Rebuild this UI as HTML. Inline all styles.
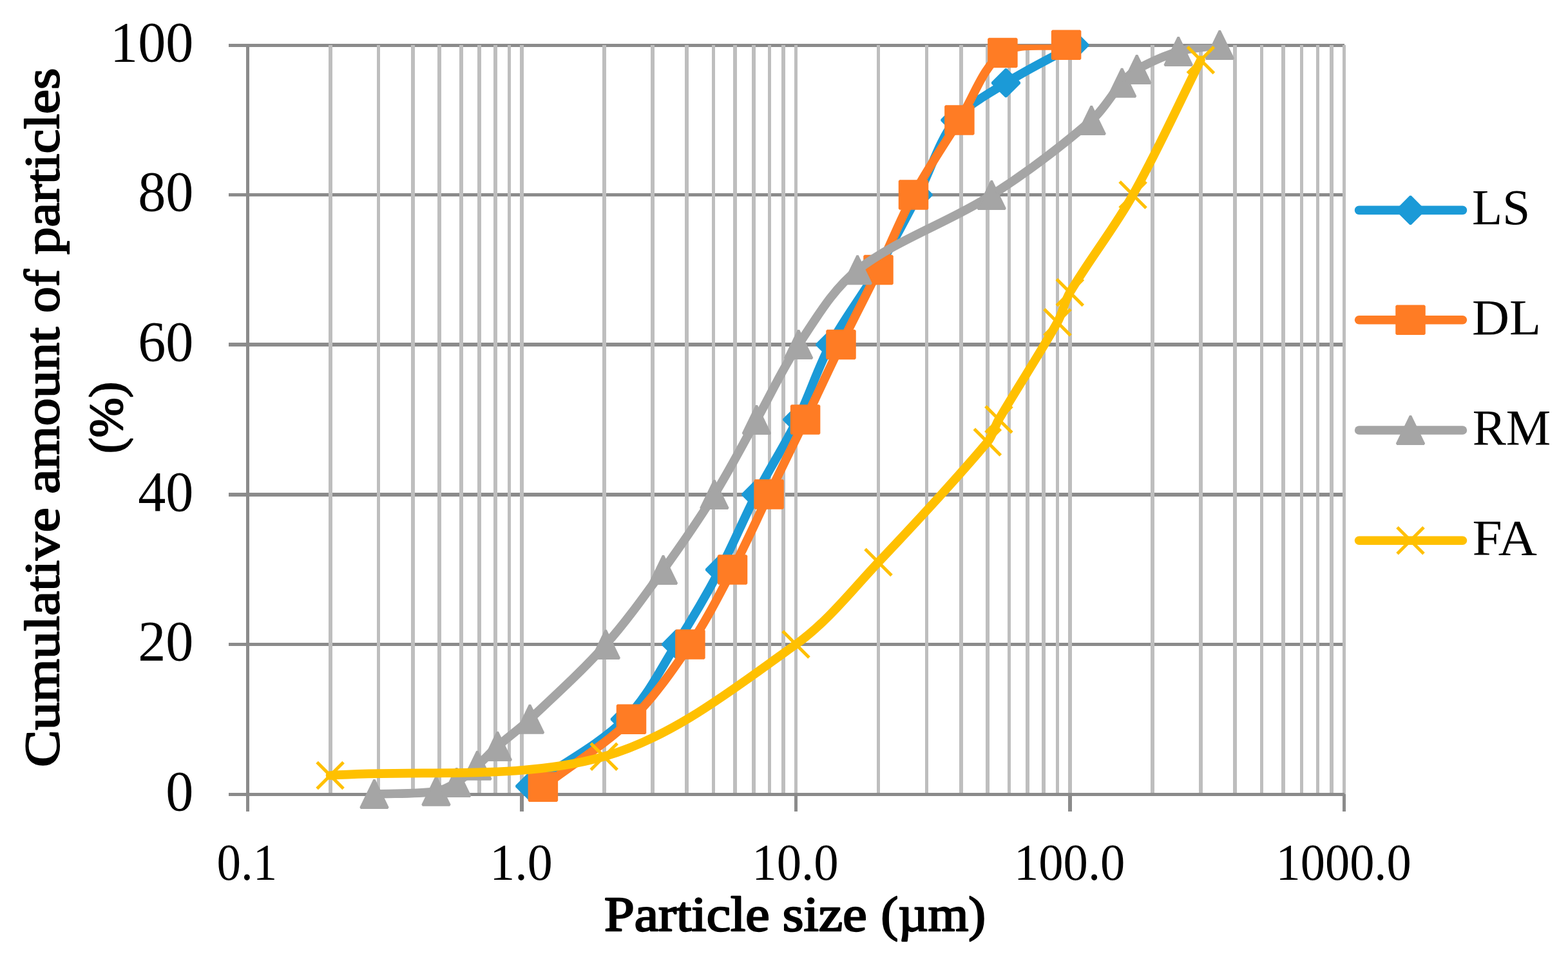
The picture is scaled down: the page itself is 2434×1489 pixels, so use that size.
<!DOCTYPE html>
<html lang="en">
<head>
<meta charset="utf-8">
<title>Particle size distribution</title>
<style>
html,body{margin:0;padding:0;background:#ffffff;}
body{width:2434px;height:1489px;overflow:hidden;}
svg{display:block;}
</style>
</head>
<body>
<svg width="2434" height="1489" viewBox="0 0 2434 1489" role="img" aria-label="Cumulative particle size distribution of LS, DL, RM and FA">
<rect width="2434" height="1489" fill="#ffffff"/>
<g fill="#8b8b8b" shape-rendering="crispEdges">
<rect x="355" y="68" width="1732" height="5"/>
<rect x="355" y="300" width="1732" height="5"/>
<rect x="355" y="532" width="1732" height="6"/>
<rect x="355" y="765" width="1732" height="6"/>
<rect x="355" y="998" width="1732" height="5"/>
</g>
<g fill="#bebebe" shape-rendering="crispEdges">
<rect x="510" y="70" width="6" height="1163"/>
<rect x="585" y="70" width="5" height="1163"/>
<rect x="638" y="70" width="6" height="1163"/>
<rect x="679" y="70" width="6" height="1163"/>
<rect x="713" y="70" width="6" height="1163"/>
<rect x="741" y="70" width="6" height="1163"/>
<rect x="766" y="70" width="6" height="1163"/>
<rect x="788" y="70" width="5" height="1163"/>
<rect x="807" y="70" width="6" height="1163"/>
<rect x="935" y="70" width="6" height="1163"/>
<rect x="1010" y="70" width="6" height="1163"/>
<rect x="1063" y="70" width="6" height="1163"/>
<rect x="1105" y="70" width="5" height="1163"/>
<rect x="1138" y="70" width="6" height="1163"/>
<rect x="1167" y="70" width="6" height="1163"/>
<rect x="1192" y="70" width="5" height="1163"/>
<rect x="1213" y="70" width="6" height="1163"/>
<rect x="1233" y="70" width="5" height="1163"/>
<rect x="1361" y="70" width="5" height="1163"/>
<rect x="1436" y="70" width="5" height="1163"/>
<rect x="1489" y="70" width="6" height="1163"/>
<rect x="1530" y="70" width="6" height="1163"/>
<rect x="1564" y="70" width="5" height="1163"/>
<rect x="1592" y="70" width="6" height="1163"/>
<rect x="1617" y="70" width="6" height="1163"/>
<rect x="1639" y="70" width="5" height="1163"/>
<rect x="1658" y="70" width="6" height="1163"/>
<rect x="1786" y="70" width="6" height="1163"/>
<rect x="1861" y="70" width="6" height="1163"/>
<rect x="1914" y="70" width="6" height="1163"/>
<rect x="1956" y="70" width="5" height="1163"/>
<rect x="1989" y="70" width="6" height="1163"/>
<rect x="2018" y="70" width="5" height="1163"/>
<rect x="2043" y="70" width="5" height="1163"/>
<rect x="2064" y="70" width="6" height="1163"/>
<rect x="2084" y="70" width="5" height="1163"/>
</g>
<g fill="#8b8b8b" shape-rendering="crispEdges">
<rect x="355" y="1231" width="1732" height="5"/>
<rect x="382" y="68" width="5" height="1192"/>
<rect x="807" y="1233" width="6" height="27"/>
<rect x="1233" y="1233" width="5" height="27"/>
<rect x="1658" y="1233" width="6" height="27"/>
<rect x="2084" y="1233" width="5" height="27"/>
</g>
<defs><clipPath id="plot"><rect x="370" y="69.2" width="1740" height="1180"/></clipPath></defs>
<path d="M822.70,1220.70 C871.90,1186.03 927.79,1157.96 970.30,1116.70 C1003.46,1084.52 1024.59,1040.03 1049.70,1000.40 C1073.66,962.59 1096.45,923.89 1117.50,884.40 C1137.78,846.36 1153.91,806.12 1173.70,767.80 C1194.01,728.49 1218.20,691.14 1237.80,651.50 C1256.57,613.54 1268.88,572.29 1288.80,535.00 C1310.28,494.79 1338.89,458.42 1362.00,419.00 C1384.32,380.92 1404.72,341.67 1425.10,302.50 C1445.02,264.21 1456.97,219.62 1482.90,186.60 C1502.43,161.72 1534.04,146.10 1561.50,128.80 C1595.71,107.24 1632.43,89.60 1667.90,70.00" fill="none" stroke="#1b9ad7" stroke-width="13.7" stroke-linecap="round" stroke-linejoin="round" clip-path="url(#plot)"/>
<path d="M822.70,1199.40 l21.30,21.30 l-21.30,21.30 l-21.30,-21.30 z" fill="#1b9ad7" stroke="#1b9ad7" stroke-width="3.5" stroke-linejoin="bevel"/>
<path d="M970.30,1095.40 l21.30,21.30 l-21.30,21.30 l-21.30,-21.30 z" fill="#1b9ad7" stroke="#1b9ad7" stroke-width="3.5" stroke-linejoin="bevel"/>
<path d="M1049.70,979.10 l21.30,21.30 l-21.30,21.30 l-21.30,-21.30 z" fill="#1b9ad7" stroke="#1b9ad7" stroke-width="3.5" stroke-linejoin="bevel"/>
<path d="M1117.50,863.10 l21.30,21.30 l-21.30,21.30 l-21.30,-21.30 z" fill="#1b9ad7" stroke="#1b9ad7" stroke-width="3.5" stroke-linejoin="bevel"/>
<path d="M1173.70,746.50 l21.30,21.30 l-21.30,21.30 l-21.30,-21.30 z" fill="#1b9ad7" stroke="#1b9ad7" stroke-width="3.5" stroke-linejoin="bevel"/>
<path d="M1237.80,630.20 l21.30,21.30 l-21.30,21.30 l-21.30,-21.30 z" fill="#1b9ad7" stroke="#1b9ad7" stroke-width="3.5" stroke-linejoin="bevel"/>
<path d="M1288.80,513.70 l21.30,21.30 l-21.30,21.30 l-21.30,-21.30 z" fill="#1b9ad7" stroke="#1b9ad7" stroke-width="3.5" stroke-linejoin="bevel"/>
<path d="M1362.00,397.70 l21.30,21.30 l-21.30,21.30 l-21.30,-21.30 z" fill="#1b9ad7" stroke="#1b9ad7" stroke-width="3.5" stroke-linejoin="bevel"/>
<path d="M1425.10,281.20 l21.30,21.30 l-21.30,21.30 l-21.30,-21.30 z" fill="#1b9ad7" stroke="#1b9ad7" stroke-width="3.5" stroke-linejoin="bevel"/>
<path d="M1482.90,165.30 l21.30,21.30 l-21.30,21.30 l-21.30,-21.30 z" fill="#1b9ad7" stroke="#1b9ad7" stroke-width="3.5" stroke-linejoin="bevel"/>
<path d="M1561.50,107.50 l21.30,21.30 l-21.30,21.30 l-21.30,-21.30 z" fill="#1b9ad7" stroke="#1b9ad7" stroke-width="3.5" stroke-linejoin="bevel"/>
<path d="M1667.90,48.70 l21.30,21.30 l-21.30,21.30 l-21.30,-21.30 z" fill="#1b9ad7" stroke="#1b9ad7" stroke-width="3.5" stroke-linejoin="bevel"/>
<path d="M842.90,1221.70 C888.60,1186.73 938.98,1156.51 980.00,1116.80 C1015.15,1082.78 1043.87,1041.23 1071.40,1000.50 C1096.20,963.80 1116.37,923.82 1137.00,884.50 C1157.10,846.18 1174.69,806.55 1193.60,767.60 C1212.39,728.88 1231.44,690.28 1250.10,651.50 C1268.74,612.78 1286.66,573.72 1305.50,535.10 C1324.46,496.22 1344.67,457.94 1363.50,419.00 C1382.17,380.38 1397.61,340.07 1418.00,302.40 C1439.58,262.54 1465.26,224.85 1489.40,186.40 C1511.39,151.38 1525.74,103.57 1556.40,82.00 C1580.98,64.71 1622.20,73.87 1655.10,69.80" fill="none" stroke="#ff7c24" stroke-width="13.7" stroke-linecap="round" stroke-linejoin="round" clip-path="url(#plot)"/>
<rect x="821.40" y="1200.20" width="43.00" height="43.00" fill="#ff7c24" stroke="#ff7c24" stroke-width="3.5" stroke-linejoin="bevel"/>
<rect x="958.50" y="1095.30" width="43.00" height="43.00" fill="#ff7c24" stroke="#ff7c24" stroke-width="3.5" stroke-linejoin="bevel"/>
<rect x="1049.90" y="979.00" width="43.00" height="43.00" fill="#ff7c24" stroke="#ff7c24" stroke-width="3.5" stroke-linejoin="bevel"/>
<rect x="1115.50" y="863.00" width="43.00" height="43.00" fill="#ff7c24" stroke="#ff7c24" stroke-width="3.5" stroke-linejoin="bevel"/>
<rect x="1172.10" y="746.10" width="43.00" height="43.00" fill="#ff7c24" stroke="#ff7c24" stroke-width="3.5" stroke-linejoin="bevel"/>
<rect x="1228.60" y="630.00" width="43.00" height="43.00" fill="#ff7c24" stroke="#ff7c24" stroke-width="3.5" stroke-linejoin="bevel"/>
<rect x="1284.00" y="513.60" width="43.00" height="43.00" fill="#ff7c24" stroke="#ff7c24" stroke-width="3.5" stroke-linejoin="bevel"/>
<rect x="1342.00" y="397.50" width="43.00" height="43.00" fill="#ff7c24" stroke="#ff7c24" stroke-width="3.5" stroke-linejoin="bevel"/>
<rect x="1396.50" y="280.90" width="43.00" height="43.00" fill="#ff7c24" stroke="#ff7c24" stroke-width="3.5" stroke-linejoin="bevel"/>
<rect x="1467.90" y="164.90" width="43.00" height="43.00" fill="#ff7c24" stroke="#ff7c24" stroke-width="3.5" stroke-linejoin="bevel"/>
<rect x="1534.90" y="60.50" width="43.00" height="43.00" fill="#ff7c24" stroke="#ff7c24" stroke-width="3.5" stroke-linejoin="bevel"/>
<rect x="1633.60" y="48.30" width="43.00" height="43.00" fill="#ff7c24" stroke="#ff7c24" stroke-width="3.5" stroke-linejoin="bevel"/>
<path d="M581.00,1233.00 C613.00,1231.57 645.69,1233.13 677.00,1228.70 C688.29,1227.10 699.10,1220.97 708.80,1214.90 C720.40,1207.64 730.56,1197.84 740.90,1188.70 C751.72,1179.14 761.47,1168.36 772.30,1158.80 C788.67,1144.36 806.60,1131.65 822.50,1116.70 C862.60,1078.99 903.69,1041.78 940.30,1000.80 C972.69,964.55 1000.93,924.44 1029.50,885.00 C1057.13,846.84 1084.04,807.99 1108.90,768.00 C1132.34,730.29 1152.66,690.65 1174.40,651.90 C1196.23,612.99 1214.76,571.90 1239.60,535.00 C1267.00,494.30 1292.89,448.69 1331.10,419.10 C1392.76,371.35 1472.42,345.69 1539.20,303.00 C1593.45,268.32 1645.60,228.86 1694.20,187.00 C1713.06,170.76 1724.97,147.34 1741.60,128.70 C1748.47,121.01 1755.76,112.97 1764.70,108.00 C1784.96,96.74 1806.90,86.59 1829.20,80.00 C1849.77,73.92 1871.93,73.33 1893.30,70.00" fill="none" stroke="#a5a5a5" stroke-width="13.7" stroke-linecap="round" stroke-linejoin="round" clip-path="url(#plot)"/>
<path d="M581.00,1210.80 L602.10,1254.35 L559.90,1254.35 z" fill="#a5a5a5" stroke="#a5a5a5" stroke-width="3.5" stroke-linejoin="bevel"/>
<path d="M677.00,1206.50 L698.10,1250.05 L655.90,1250.05 z" fill="#a5a5a5" stroke="#a5a5a5" stroke-width="3.5" stroke-linejoin="bevel"/>
<path d="M708.80,1192.70 L729.90,1236.25 L687.70,1236.25 z" fill="#a5a5a5" stroke="#a5a5a5" stroke-width="3.5" stroke-linejoin="bevel"/>
<path d="M740.90,1166.50 L762.00,1210.05 L719.80,1210.05 z" fill="#a5a5a5" stroke="#a5a5a5" stroke-width="3.5" stroke-linejoin="bevel"/>
<path d="M772.30,1136.60 L793.40,1180.15 L751.20,1180.15 z" fill="#a5a5a5" stroke="#a5a5a5" stroke-width="3.5" stroke-linejoin="bevel"/>
<path d="M822.50,1094.50 L843.60,1138.05 L801.40,1138.05 z" fill="#a5a5a5" stroke="#a5a5a5" stroke-width="3.5" stroke-linejoin="bevel"/>
<path d="M940.30,978.60 L961.40,1022.15 L919.20,1022.15 z" fill="#a5a5a5" stroke="#a5a5a5" stroke-width="3.5" stroke-linejoin="bevel"/>
<path d="M1029.50,862.80 L1050.60,906.35 L1008.40,906.35 z" fill="#a5a5a5" stroke="#a5a5a5" stroke-width="3.5" stroke-linejoin="bevel"/>
<path d="M1108.90,745.80 L1130.00,789.35 L1087.80,789.35 z" fill="#a5a5a5" stroke="#a5a5a5" stroke-width="3.5" stroke-linejoin="bevel"/>
<path d="M1174.40,629.70 L1195.50,673.25 L1153.30,673.25 z" fill="#a5a5a5" stroke="#a5a5a5" stroke-width="3.5" stroke-linejoin="bevel"/>
<path d="M1239.60,512.80 L1260.70,556.35 L1218.50,556.35 z" fill="#a5a5a5" stroke="#a5a5a5" stroke-width="3.5" stroke-linejoin="bevel"/>
<path d="M1331.10,396.90 L1352.20,440.45 L1310.00,440.45 z" fill="#a5a5a5" stroke="#a5a5a5" stroke-width="3.5" stroke-linejoin="bevel"/>
<path d="M1539.20,280.80 L1560.30,324.35 L1518.10,324.35 z" fill="#a5a5a5" stroke="#a5a5a5" stroke-width="3.5" stroke-linejoin="bevel"/>
<path d="M1694.20,164.80 L1715.30,208.35 L1673.10,208.35 z" fill="#a5a5a5" stroke="#a5a5a5" stroke-width="3.5" stroke-linejoin="bevel"/>
<path d="M1741.60,106.50 L1762.70,150.05 L1720.50,150.05 z" fill="#a5a5a5" stroke="#a5a5a5" stroke-width="3.5" stroke-linejoin="bevel"/>
<path d="M1764.70,85.80 L1785.80,129.35 L1743.60,129.35 z" fill="#a5a5a5" stroke="#a5a5a5" stroke-width="3.5" stroke-linejoin="bevel"/>
<path d="M1829.20,57.80 L1850.30,101.35 L1808.10,101.35 z" fill="#a5a5a5" stroke="#a5a5a5" stroke-width="3.5" stroke-linejoin="bevel"/>
<path d="M1893.30,47.80 L1914.40,91.35 L1872.20,91.35 z" fill="#a5a5a5" stroke="#a5a5a5" stroke-width="3.5" stroke-linejoin="bevel"/>
<path d="M512.60,1204.00 C654.30,1194.23 804.55,1212.18 937.70,1174.70 C1045.51,1144.35 1142.35,1066.50 1235.50,1000.50 C1284.28,965.94 1322.12,916.72 1363.50,873.00 C1421.22,812.02 1478.90,750.34 1532.80,686.40 C1541.20,676.44 1543.80,662.60 1550.40,651.30 C1580.00,600.60 1612.77,551.56 1641.40,500.40 C1649.57,485.80 1652.28,468.38 1660.80,454.00 C1691.34,402.45 1729.16,354.88 1758.60,302.60 C1796.86,234.64 1828.80,163.07 1863.90,93.30" fill="none" stroke="#ffc000" stroke-width="13.7" stroke-linecap="round" stroke-linejoin="round" clip-path="url(#plot)"/>
<path d="M492.10,1183.50 L533.10,1224.50 M492.10,1224.50 L533.10,1183.50" fill="none" stroke="#ffc000" stroke-width="5" stroke-linecap="butt"/>
<path d="M917.20,1154.20 L958.20,1195.20 M917.20,1195.20 L958.20,1154.20" fill="none" stroke="#ffc000" stroke-width="5" stroke-linecap="butt"/>
<path d="M1215.00,980.00 L1256.00,1021.00 M1215.00,1021.00 L1256.00,980.00" fill="none" stroke="#ffc000" stroke-width="5" stroke-linecap="butt"/>
<path d="M1343.00,852.50 L1384.00,893.50 M1343.00,893.50 L1384.00,852.50" fill="none" stroke="#ffc000" stroke-width="5" stroke-linecap="butt"/>
<path d="M1512.30,665.90 L1553.30,706.90 M1512.30,706.90 L1553.30,665.90" fill="none" stroke="#ffc000" stroke-width="5" stroke-linecap="butt"/>
<path d="M1529.90,630.80 L1570.90,671.80 M1529.90,671.80 L1570.90,630.80" fill="none" stroke="#ffc000" stroke-width="5" stroke-linecap="butt"/>
<path d="M1620.90,479.90 L1661.90,520.90 M1620.90,520.90 L1661.90,479.90" fill="none" stroke="#ffc000" stroke-width="5" stroke-linecap="butt"/>
<path d="M1640.30,433.50 L1681.30,474.50 M1640.30,474.50 L1681.30,433.50" fill="none" stroke="#ffc000" stroke-width="5" stroke-linecap="butt"/>
<path d="M1738.10,282.10 L1779.10,323.10 M1738.10,323.10 L1779.10,282.10" fill="none" stroke="#ffc000" stroke-width="5" stroke-linecap="butt"/>
<path d="M1843.40,72.80 L1884.40,113.80 M1843.40,113.80 L1884.40,72.80" fill="none" stroke="#ffc000" stroke-width="5" stroke-linecap="butt"/>
<path d="M2109.6,326.4 L2270.4,326.4" fill="none" stroke="#1b9ad7" stroke-width="13.6" stroke-linecap="round"/>
<path d="M2189.50,305.10 l21.30,21.30 l-21.30,21.30 l-21.30,-21.30 z" fill="#1b9ad7" stroke="#1b9ad7" stroke-width="3.5" stroke-linejoin="bevel"/>
<path d="M2109.6,496.7 L2270.4,496.7" fill="none" stroke="#ff7c24" stroke-width="13.6" stroke-linecap="round"/>
<rect x="2168.00" y="475.20" width="43.00" height="43.00" fill="#ff7c24" stroke="#ff7c24" stroke-width="3.5" stroke-linejoin="bevel"/>
<path d="M2109.6,668.0 L2270.4,668.0" fill="none" stroke="#a5a5a5" stroke-width="13.6" stroke-linecap="round"/>
<path d="M2189.50,645.80 L2210.60,689.35 L2168.40,689.35 z" fill="#a5a5a5" stroke="#a5a5a5" stroke-width="3.5" stroke-linejoin="bevel"/>
<path d="M2109.6,839.2 L2270.4,839.2" fill="none" stroke="#ffc000" stroke-width="13.6" stroke-linecap="round"/>
<path d="M2169.00,818.70 L2210.00,859.70 M2169.00,859.70 L2210.00,818.70" fill="none" stroke="#ffc000" stroke-width="5" stroke-linecap="butt"/>
<text font-size="84" text-anchor="end" font-family="'Liberation Serif','DejaVu Serif',serif" transform="matrix(1.0265 0 0 1.0690 300.44 95.20)" fill="#000000">100</text>
<text font-size="84" text-anchor="end" font-family="'Liberation Serif','DejaVu Serif',serif" transform="matrix(1.0265 0 0 1.0690 300.44 327.20)" fill="#000000">80</text>
<text font-size="84" text-anchor="end" font-family="'Liberation Serif','DejaVu Serif',serif" transform="matrix(1.0265 0 0 1.0690 300.44 559.70)" fill="#000000">60</text>
<text font-size="84" text-anchor="end" font-family="'Liberation Serif','DejaVu Serif',serif" transform="matrix(1.0265 0 0 1.0690 300.44 792.70)" fill="#000000">40</text>
<text font-size="84" text-anchor="end" font-family="'Liberation Serif','DejaVu Serif',serif" transform="matrix(1.0265 0 0 1.0690 300.44 1025.20)" fill="#000000">20</text>
<text font-size="84" text-anchor="end" font-family="'Liberation Serif','DejaVu Serif',serif" transform="matrix(1.0265 0 0 1.0690 300.44 1258.20)" fill="#000000">0</text>
<text font-size="76" font-family="'Liberation Serif','DejaVu Serif',serif" transform="matrix(0.9863 0 0 1.0524 336.44 1365.85)" fill="#000000">0.1</text>
<text font-size="76" font-family="'Liberation Serif','DejaVu Serif',serif" transform="matrix(1.0264 0 0 1.0524 760.17 1365.85)" fill="#000000">1.0</text>
<text font-size="76" font-family="'Liberation Serif','DejaVu Serif',serif" transform="matrix(1.0101 0 0 1.0524 1167.28 1365.85)" fill="#000000">10.0</text>
<text font-size="76" font-family="'Liberation Serif','DejaVu Serif',serif" transform="matrix(1.0090 0 0 1.0524 1573.89 1365.85)" fill="#000000">100.0</text>
<text font-size="76" font-family="'Liberation Serif','DejaVu Serif',serif" transform="matrix(1.0058 0 0 1.0524 1980.51 1365.85)" fill="#000000">1000.0</text>
<text font-size="76" stroke="#000000" stroke-width="2.4" stroke-linejoin="round" font-family="'Liberation Serif','DejaVu Serif',serif" transform="matrix(1 0 0 0.9934 0 1444.60)" fill="#000000"><tspan x="937.89" textLength="256.73" lengthAdjust="spacingAndGlyphs">Particle</tspan> <tspan x="1214.68" textLength="130.87" lengthAdjust="spacingAndGlyphs">size</tspan> <tspan x="1367.62" textLength="162.43" lengthAdjust="spacingAndGlyphs">(µm)</tspan></text>
<text font-size="84" stroke="#000000" stroke-width="2.4" stroke-linejoin="round" font-family="'Liberation Serif','DejaVu Serif',serif" transform="matrix(0 -1 0.8988 0 91.20 0)" fill="#000000"><tspan x="-1191.01" textLength="402.76" lengthAdjust="spacingAndGlyphs">Cumulative</tspan> <tspan x="-766.80" textLength="258.90" lengthAdjust="spacingAndGlyphs">amount</tspan> <tspan x="-485.73" textLength="67.41" lengthAdjust="spacingAndGlyphs">of</tspan> <tspan x="-395.15" textLength="289.47" lengthAdjust="spacingAndGlyphs">particles</tspan></text>
<text font-size="84" stroke="#000000" stroke-width="2.4" stroke-linejoin="round" font-family="'Liberation Serif','DejaVu Serif',serif" transform="matrix(0 -1 0.8800 0 189.50 0)" fill="#000000"><tspan x="-703.90" textLength="110.94" lengthAdjust="spacingAndGlyphs">(%)</tspan></text>
<text font-size="76" font-family="'Liberation Serif','DejaVu Serif',serif" transform="matrix(1.0153 0 0 1.0300 2285.02 347.50)" fill="#000000">LS</text>
<text font-size="76" font-family="'Liberation Serif','DejaVu Serif',serif" transform="matrix(1.0571 0 0 1.0300 2284.92 518.70)" fill="#000000">DL</text>
<text font-size="76" font-family="'Liberation Serif','DejaVu Serif',serif" transform="matrix(1.0277 0 0 1.0300 2285.69 690.40)" fill="#000000">RM</text>
<text font-size="76" font-family="'Liberation Serif','DejaVu Serif',serif" transform="matrix(1.0963 0 0 1.0300 2285.53 860.80)" fill="#000000">FA</text>
</svg>
</body>
</html>
